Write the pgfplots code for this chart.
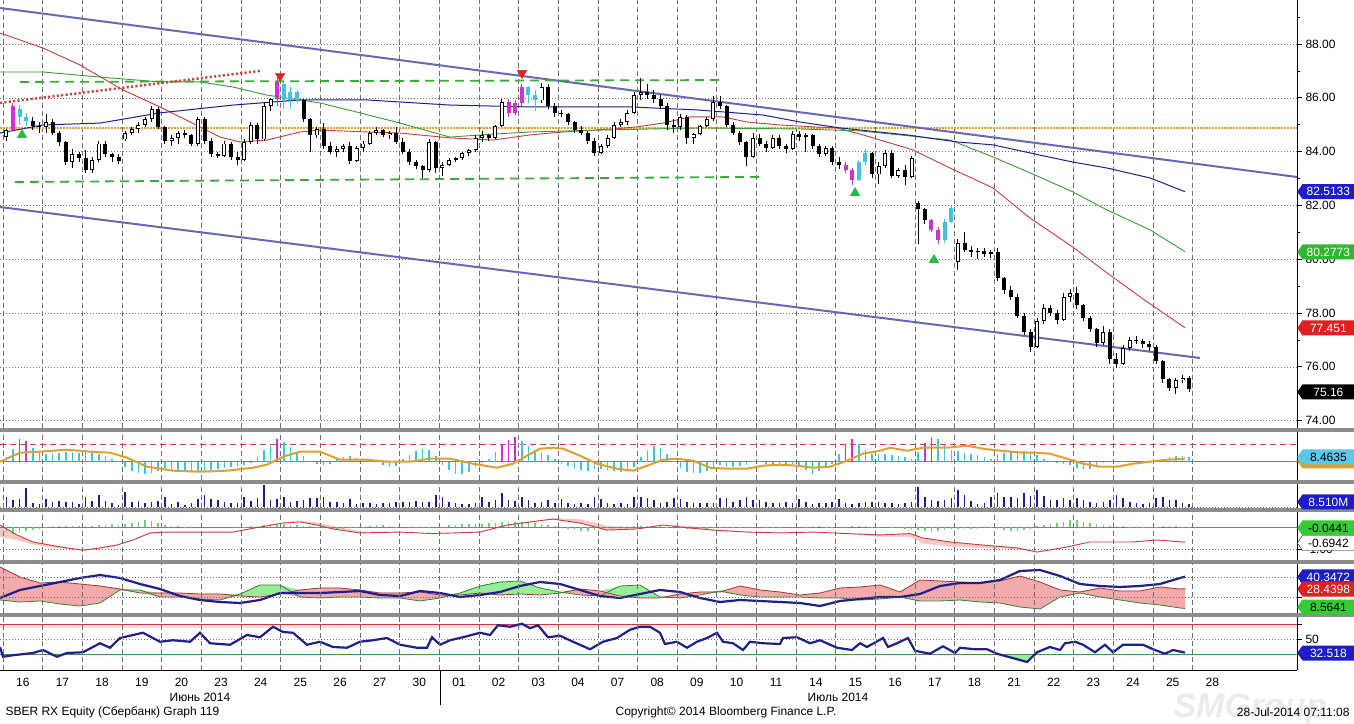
\documentclass[border=0pt]{standalone}
\usepackage{fontspec}
\setmainfont{Liberation Sans}
\usepackage{pgfplots}
\usepackage{pgfplotstable}
\pgfplotsset{compat=1.18}
\usetikzlibrary{shapes.symbols}

\definecolor{chan}{HTML}{6868B4}
\definecolor{mared}{HTML}{C83C3C}
\definecolor{magreen}{HTML}{3C9A3C}
\definecolor{manavy}{HTML}{20208C}
\definecolor{dgreen}{HTML}{3CAA3C}
\definecolor{trigreen}{HTML}{22BB44}
\definecolor{dotred}{HTML}{C84646}
\definecolor{orng}{HTML}{E0A030}
\definecolor{mag}{HTML}{CC33CC}
\definecolor{cyn}{HTML}{3EC4DC}
\definecolor{volc}{HTML}{1E1E8C}
\definecolor{hgreen}{HTML}{70D070}
\definecolor{pinkf}{HTML}{F4AAAA}
\definecolor{pinkl}{HTML}{F6C8C8}
\definecolor{greenf}{HTML}{98EE98}
\definecolor{pinkband}{HTML}{FBE2E2}
\definecolor{sepc}{HTML}{8C8C8C}
\definecolor{gridc}{HTML}{707070}
\definecolor{tagblue}{HTML}{1C1CC8}
\definecolor{taggreen}{HTML}{2DB82D}
\definecolor{tagred}{HTML}{E02020}
\definecolor{tagcyan}{HTML}{58C8EC}
\definecolor{limeg}{HTML}{33CC33}

\pgfplotsset{
  /pgf/number format/assume math mode=true,
  panel/.style={
    scale only axis, width=1297pt, anchor=south west,
    xmin=-0.0757, xmax=32.636, clip=false,
    axis line style={draw=none},
    xtick={0,...,30}, xticklabels={}, xtick style={draw=none},
    xmajorgrids,
    x grid style={gridc, dash pattern=on 5pt off 3pt, line width=0.5pt},
    ytick pos=right, yticklabel pos=right, tick align=outside,
    ytick style={black, line width=0.6pt},
    major tick length=5pt, minor tick length=3pt,
    ticklabel style={font=\fontsize{12}{14}\selectfont},
  },
}
\tikzset{tag/.style={signal, signal to=west, signal pointer angle=110, anchor=west,
  minimum height=15pt, minimum width=57pt, inner xsep=2pt, inner ysep=1pt,
  font=\fontsize{12}{12}\selectfont}}

\begin{document}

\pgfplotstableread{
o h l c hv vol m
84.55 84.85 84.40 84.80 5 10 -0.25
84.80 85.80 84.75 85.70 13 7 -0.3
85.60 85.75 85.00 85.30 23 8 -0.25
85.30 85.45 84.95 85.15 21 19 -0.2
85.15 85.30 84.80 84.95 14 4 -0.15
84.95 85.10 84.70 84.90 9 3 -0.1
84.90 85.40 84.70 85.10 8 8 -0.05
85.10 85.20 84.60 84.70 8 5 0.03
84.70 84.75 84.20 84.35 9 6 0.04
84.35 84.40 83.50 83.60 10 5 0.05
83.60 84.10 83.40 83.90 10 5 0.05
83.90 84.00 83.60 83.75 9 3 0.04
83.75 84.05 83.20 83.30 10 10 0.03
83.30 83.80 83.20 83.70 9 6 0.05
83.70 84.40 83.60 84.30 8 12 0.08
84.30 84.40 83.80 83.90 6 6 0.1
83.90 83.95 83.60 83.80 3 4 0.12
83.80 83.90 83.55 83.65 1 2 0.1
84.45 84.75 84.40 84.70 -5 15 0.15
84.70 84.90 84.60 84.85 -9 5 0.2
84.85 85.10 84.70 85.00 -11 6 0.25
85.00 85.30 84.90 85.20 -12 4 0.3
85.20 85.70 85.10 85.60 -11 5 0.28
85.60 85.65 84.85 84.90 -9 6 0.2
84.90 84.95 84.30 84.40 -6 10 0.1
84.40 84.60 84.20 84.50 -8 3 0.05
84.50 84.75 84.30 84.70 -10 5 0.03
84.70 84.80 84.50 84.60 -10 2 0.02
84.60 84.65 84.20 84.30 -10 4 0.01
84.30 85.30 84.20 85.20 -9 8 0
85.20 85.30 84.30 84.40 -9 12 0
84.40 84.50 83.80 83.90 -8 8 0
83.90 84.00 83.75 83.85 -7 7 0
83.85 84.40 83.80 84.30 -6 5 0
84.30 84.35 83.70 83.80 -5 4 0
83.80 84.00 83.50 83.70 -4 4 0.01
83.70 84.45 83.65 84.35 -3 10 0.02
84.35 85.10 84.30 85.00 -1 6 0.04
85.00 85.05 84.30 84.45 5 9 0.06
84.45 85.85 84.40 85.70 12 22 0.1
85.70 86.00 85.50 85.95 17 7 0.12
85.95 86.75 85.70 86.60 23 8 0.14
86.50 86.60 85.60 85.90 20 10 0.12
85.90 86.40 85.60 86.20 15 5 0.1
86.20 86.30 85.80 85.90 10 6 0.08
85.90 85.95 85.10 85.20 6 7 0.05
85.20 85.25 84.00 84.60 1 9 0.03
84.60 84.90 84.50 84.85 -2 9 0.01
84.85 85.05 84.10 84.20 -3 10 -0.03
84.20 84.35 83.90 84.00 -2 5 -0.06
84.00 84.20 83.80 84.10 3 5 -0.08
84.10 84.30 84.00 84.20 5 4 -0.08
84.20 84.35 83.55 83.65 6 8 -0.05
83.65 84.20 83.60 84.15 4 3 -0.02
84.15 84.40 84.00 84.30 3 4 0.02
84.30 84.75 84.25 84.70 2 4 0.05
84.70 84.90 84.60 84.80 0 3 0.07
84.80 84.85 84.55 84.60 -3 4 0.07
84.60 84.75 84.45 84.70 -5 4 0.05
84.70 84.90 84.30 84.35 -4 5 0.02
84.35 84.50 83.90 84.00 3 5 0
84.00 84.10 83.50 83.60 7 5 -0.02
83.60 83.70 83.35 83.45 11 6 -0.03
83.45 83.50 83.00 83.30 13 5 -0.03
83.30 84.45 83.25 84.35 12 5 -0.02
84.35 84.40 83.20 83.40 6 12 0
83.40 83.60 83.10 83.50 -3 10 0.02
83.50 83.75 83.45 83.70 -8 5 0.08
83.70 83.80 83.60 83.75 -12 4 0.1
83.75 84.00 83.70 83.95 -12 3 0.12
83.95 84.10 83.85 84.05 -10 3 0.12
84.05 84.60 84.00 84.50 -5 4 0.12
84.50 84.75 84.35 84.60 -1 10 0.15
84.60 84.65 84.40 84.50 3 5 0.18
84.50 85.00 84.45 84.95 10 7 0.2
84.95 85.95 84.90 85.85 17 14 0.22
85.85 85.95 85.30 85.45 22 7 0.25
85.45 85.90 85.35 85.80 25 6 0.25
85.80 86.50 85.70 86.40 21 10 0.25
86.40 86.45 85.80 86.10 16 7 0.22
86.10 86.30 85.50 85.90 12 4 0.2
85.90 86.55 85.80 86.40 9 5 0.15
86.40 86.50 85.60 85.70 7 7 0.1
85.70 85.80 85.30 85.45 3 4 0.05
85.45 85.55 85.30 85.40 -2 8 -0.05
85.40 85.45 85.00 85.10 -4 4 -0.1
85.10 85.15 84.70 84.80 -7 3 -0.15
84.80 84.95 84.60 84.70 -8 4 -0.18
84.70 84.75 84.30 84.40 -9 3 -0.18
84.40 84.50 83.85 83.95 -7 10 -0.15
83.95 84.30 83.90 84.20 -7 8 -0.1
84.20 84.60 84.15 84.50 -8 4 -0.05
84.50 85.10 84.45 85.00 -9 3 0
85.00 85.20 84.90 85.10 -10 4 0.03
85.10 85.55 85.00 85.45 -9 3 0.05
85.45 86.20 85.40 86.10 -5 10 0.05
86.10 86.75 85.90 86.20 5 10 0.05
86.20 86.50 85.95 86.10 12 9 0.06
86.10 86.30 85.80 85.95 16 7 0.05
85.95 86.10 85.60 85.70 14 4 0.03
85.70 85.80 84.80 85.00 8 5 0.02
85.00 85.20 84.70 84.90 1 9 0
84.90 85.40 84.80 85.30 -6 8 -0.05
85.30 85.35 84.30 84.50 -10 5 -0.08
84.50 84.70 84.30 84.65 -11 4 -0.1
84.65 85.00 84.60 84.95 -11 4 -0.1
84.95 85.30 84.90 85.20 -9 4 -0.08
85.20 86.05 85.15 85.85 -5 4 -0.05
85.85 86.05 85.60 85.70 -3 9 -0.02
85.70 85.75 84.90 85.00 -5 9 -0.02
85.00 85.10 84.60 84.70 -5 5 -0.03
84.70 84.75 84.25 84.35 -4 7 -0.02
84.35 84.40 83.45 83.80 -3 10 -0.01
83.80 84.70 83.75 84.50 1 7 0
84.50 84.65 84.20 84.30 1 7 0
84.30 84.40 84.00 84.15 -2 5 0.01
84.15 84.60 84.10 84.50 -3 4 0.01
84.50 84.60 84.10 84.20 -3 4 0.01
84.20 84.30 83.95 84.10 -2 5 0
84.10 84.75 84.05 84.65 -2 4 0
84.65 84.75 84.40 84.55 -4 8 0
84.55 84.70 84.00 84.60 -8 5 0.02
84.60 84.65 84.10 84.20 -12 3 0.03
84.20 84.30 83.80 83.90 -9 4 0.03
83.90 84.20 83.85 84.15 -5 4 0.02
84.15 84.20 83.50 83.60 -2 5 0.01
83.60 83.80 83.35 83.50 8 8 0
83.50 83.60 83.20 83.30 18 4 0.02
83.30 83.40 82.75 82.95 23 3 0.03
82.95 83.70 82.90 83.60 18 4 0.04
83.60 84.10 83.50 83.95 12 5 0.03
83.95 84.00 83.00 83.15 8 5 0.02
83.15 83.60 82.80 83.45 8 5 0.01
83.45 84.05 83.40 83.95 8 4 0
83.95 84.05 83.00 83.10 7 4 -0.02
83.10 83.40 83.00 83.30 6 3 -0.05
83.30 83.50 82.75 83.05 5 4 -0.08
83.05 83.85 83.00 83.75 3 5 -0.12
82.10 82.15 80.55 81.85 10 20 -0.15
81.85 81.90 81.30 81.45 19 10 -0.2
81.45 81.50 81.00 81.10 25 7 -0.22
81.10 81.20 80.55 80.70 23 6 -0.2
80.70 81.50 80.60 81.40 17 7 -0.15
81.40 82.00 81.35 81.90 12 9 -0.1
79.90 80.75 79.60 80.60 11 17 -0.08
80.60 81.00 80.25 80.35 9 12 -0.1
80.35 80.50 80.10 80.25 8 6 -0.1
80.25 80.40 80.00 80.30 7 3 -0.08
80.30 80.40 80.10 80.20 5 4 -0.05
80.20 80.35 80.05 80.25 3 10 -0.03
80.25 80.40 79.20 79.30 8 14 -0.1
79.30 79.35 78.70 78.85 9 10 -0.15
78.85 79.00 78.50 78.60 10 10 -0.18
78.60 78.70 77.80 77.90 11 9 -0.2
77.90 78.00 77.20 77.30 11 14 -0.15
77.30 77.40 76.55 76.75 10 11 -0.08
76.75 77.80 76.70 77.70 7 17 0.05
77.70 78.35 77.60 78.20 3 11 0.1
78.20 78.30 77.90 78.00 1 7 0.15
78.00 78.10 77.60 77.75 -1 7 0.2
77.75 78.75 77.70 78.60 -2 9 0.25
78.60 78.90 78.40 78.75 -3 7 0.3
78.75 78.95 78.15 78.30 -6 9 0.3
78.30 78.35 77.70 77.80 -7 7 0.25
77.80 77.90 77.30 77.40 -7 5 0.2
77.40 77.45 76.75 76.90 -3 4 0.15
76.90 77.50 76.80 77.30 -1 5 0.1
77.30 77.40 76.10 76.30 0 7 0.05
76.30 76.50 75.95 76.10 0 12 0.03
76.10 76.80 76.05 76.70 1 9 0.03
76.70 77.10 76.60 77.00 0 5 0.02
77.00 77.15 76.85 76.95 0 4 0.02
76.95 77.05 76.70 76.85 1 3 0.02
76.85 76.95 76.60 76.75 1 4 0.01
76.75 76.80 76.10 76.20 2 9 0.02
76.20 76.25 75.40 75.55 3 10 0.03
75.55 75.60 75.10 75.20 5 7 0.03
75.20 75.60 75.00 75.50 6 7 0.03
75.50 75.70 75.40 75.60 6 4 0.02
75.60 75.65 75.05 75.16 5 3 0.02
}\bars

\pgfplotstableread{
x o h l c
0.25 84.80 85.80 84.75 85.70
6.917 85.95 86.75 85.70 86.60
12.75 85.85 85.95 85.30 85.45
12.917 85.45 85.90 85.35 85.80
13.083 85.80 86.50 85.70 86.40
21.25 83.50 83.60 83.20 83.30
21.417 83.30 83.40 82.75 82.95
23.417 81.45 81.50 81.00 81.10
23.583 81.10 81.20 80.55 80.70
}\magc

\pgfplotstableread{
x o h l c
0.417 85.60 85.75 85.00 85.30
0.583 85.30 85.45 84.95 85.15
7.083 86.50 86.60 85.60 85.90
7.25 85.90 86.40 85.60 86.20
7.417 86.20 86.30 85.80 85.90
13.25 86.40 86.45 85.80 86.10
13.417 86.10 86.30 85.50 85.90
21.583 82.95 83.70 82.90 83.60
21.75 83.60 84.10 83.50 83.95
23.75 80.70 81.50 80.60 81.40
23.917 81.40 82.00 81.35 81.90
}\cync

\pgfplotstableread{
x v
0.417 23
0.583 21
6.917 23
12.583 17
12.75 22
12.917 25
21.25 18
21.417 23
23.25 19
23.417 25
}\magh

\pgfplotstableread{
px p
0 88.41
43 87.85
80 87.22
123 86.29
160 85.66
200 84.92
220 84.54
240 84.36
267 84.43
300 84.73
320 84.80
367 84.73
400 84.69
450 84.51
493 84.43
530 84.62
563 84.73
613 84.84
637 84.92
663 85.06
690 85.29
723 85.29
747 85.10
780 84.99
813 84.92
837 84.88
863 84.62
890 84.32
913 84.06
950 83.39
993 82.65
1030 81.53
1073 80.45
1107 79.49
1140 78.60
1185 77.45
}\mared

\pgfplotstableread{
px p
0 86.96
43 86.96
100 86.77
160 86.59
200 86.59
233 86.40
267 86.10
320 85.81
360 85.44
400 85.06
450 84.54
493 84.65
530 84.73
600 84.80
700 84.88
800 84.84
860 84.77
900 84.62
950 84.43
993 83.80
1030 83.21
1073 82.50
1107 81.83
1150 81.09
1185 80.28
}\magrn

\pgfplotstableread{
px p
0 84.69
43 84.99
100 85.06
160 85.44
233 85.73
300 85.92
367 85.92
450 85.73
530 85.66
630 85.66
697 85.55
763 85.36
800 85.10
840 84.88
907 84.62
957 84.36
993 84.25
1040 83.87
1073 83.61
1107 83.39
1150 83.02
1185 82.51
}\manvy

\pgfplotstableread{
px v
0 0
20 9
40 10
67 12
90 10
110 9
127 4
147 -5
173 -9
200 -10
227 -9
253 -6
267 -3
283 5
300 10
320 10
340 2
367 2
387 0
410 0
430 3
450 3
473 -2
497 -6
513 -2
527 6
540 13
553 14
563 13
580 6
597 -2
617 -7
633 -9
650 -3
663 2
677 3
693 1
710 -6
727 -7
747 -7
763 -4
780 -3
797 -4
813 -6
830 -5
847 1
863 8
880 11
890 14
907 11
923 14
947 14
967 16
983 13
1000 11
1023 9
1037 9
1050 8
1067 3
1083 -2
1100 -5
1117 -5
1133 -2
1150 0
1167 2
1185 3
}\osc

\pgfplotstableread{
px r s
0 0.09 -0.45
17 -0.36 -0.6
33 -0.68 -0.8
50 -0.82 -0.92
67 -0.95 -1.0
83 -1.05 -1.08
100 -0.95 -1.0
117 -0.82 -0.85
133 -0.59 -0.6
150 -0.27 -0.3
167 -0.23 -0.23
183 -0.23 -0.23
233 -0.23 -0.23
260 0 0
283 0.18 0.2
300 0.23 0.27
317 0.09 0.2
333 -0.09 0.05
360 -0.27 -0.2
400 -0.23 -0.23
433 -0.3 -0.3
480 -0.23 -0.23
507 0.09 0.05
530 0.23 0.2
553 0.36 0.4
580 0.18 0.36
607 -0.14 0.05
637 -0.09 -0.05
663 0.09 0.09
690 -0.05 0.05
713 -0.14 -0.1
747 -0.23 -0.23
780 -0.27 -0.27
813 -0.23 -0.23
847 -0.3 -0.3
880 -0.36 -0.45
910 -0.3 -0.45
923 -0.5 -0.75
950 -0.68 -0.9
983 -0.82 -0.95
1017 -0.95 -1.0
1037 -1.14 -1.14
1067 -0.91 -0.91
1090 -0.68 -0.68
1133 -0.68 -0.68
1157 -0.59 -0.59
1185 -0.69 -0.69
}\macd

\pgfplotstableread{
px b r g
0 19 50 17
20 27 40 15
40 31 34 16
60 35 35 13
80 39 33 11
100 42 31 14
120 39 28 27
140 33 24 27
160 28 24 20
180 21 24 20
200 17 23 18
220 15 23 17
240 14 21 23
260 17 20 32
280 24 23 32
300 24 27 20
320 24 29 19
340 25 29 20
360 26 27 20
380 22 24 19
400 21 24 19
420 26 25 16
440 24 22 19
460 20 22 24
480 22 24 31
500 25 22 35
520 31 23 36
540 35 22 29
560 33 24 25
580 27 28 22
600 21 26 21
620 19 21 31
640 23 19 32
660 27 19 20
680 25 23 19
700 19 25 22
720 15 25 26
740 17 31 22
760 16 27 20
780 15 25 20
800 14 22 20
820 11 24 19
840 16 29 19
860 18 30 17
880 20 32 18
900 20 25 20
920 23 37 16
940 31 36 16
960 34 35 17
980 34 34 15
1000 37 36 14
1020 46 41 10
1040 47 35 8
1060 41 27 20
1080 33 25 24
1100 31 29 20
1120 30 26 17
1140 31 26 14
1160 33 30 12
1180 39 28 9
1185 40.35 28.44 8.56
}\dmi

\pgfplotstableread{
px v
0 40
3 27
13 29
33 32
43 36
57 27
67 32
83 33
100 45
110 39
120 52
143 59
160 47
173 49
190 47
200 59
210 45
230 43
247 56
260 53
273 67
283 60
293 59
307 43
320 47
333 40
347 39
360 47
373 49
387 52
400 43
417 39
427 39
432 53
440 43
450 49
463 53
480 59
490 56
498 69
510 67
522 71
530 65
538 69
548 53
560 55
573 47
590 37
603 47
617 52
630 63
640 67
650 67
660 59
665 44
677 47
687 39
697 47
707 52
717 59
723 47
733 45
743 36
750 47
763 45
780 44
783 52
797 53
810 45
820 49
837 39
852 36
860 45
867 40
883 52
888 40
897 45
908 52
915 35
930 31
943 41
955 32
960 39
975 37
987 37
997 31
1027 20
1037 33
1050 40
1060 36
1065 45
1075 47
1083 43
1095 33
1105 43
1113 33
1123 43
1143 43
1153 37
1165 31
1173 36
1185 32.5
}\rsi

\begin{tikzpicture}
\useasboundingbox (0pt,0pt) rectangle (1354pt,723pt);
\fill[white] (0pt,0pt) rectangle (1354pt,723pt);

% ---------------- main price panel ----------------
\begin{axis}[panel, at={(0pt,295pt)}, height=428pt, ymin=73.725, ymax=89.636,
  ytick={74,76,...,88}, minor ytick={75,77,...,89},
  yticklabel={\pgfmathprintnumber[fixed,fixed zerofill,precision=2]{\tick}},
  ymajorgrids, y grid style={gridc, dash pattern=on 1pt off 2pt, line width=0.5pt}]
\addplot[orng, line width=1.3pt, dash pattern=on 1.5pt off 1.5pt] coordinates {(-0.0757,84.88) (32.636,84.88)};
\addplot[chan, line width=2pt] coordinates {(-0.0757,89.338) (32.636,83.056)};
\addplot[chan, line width=2pt] coordinates {(-0.0757,81.94) (30.19,76.327)};
\addplot[mared, line width=0.9pt] table[x expr=(\thisrow{px}-3)/39.65, y=p] {\mared};
\addplot[magreen, line width=0.9pt] table[x expr=(\thisrow{px}-3)/39.65, y=p] {\magrn};
\addplot[manavy, line width=1pt] table[x expr=(\thisrow{px}-3)/39.65, y=p] {\manvy};
\addplot[dgreen, line width=1.8pt, dash pattern=on 9pt off 6pt] coordinates {(0.429,86.59) (18.21,86.66)};
\addplot[dgreen, line width=1.8pt, dash pattern=on 9pt off 6pt] coordinates {(0.303,82.87) (19.09,83.06)};
\addplot[dotred, line width=2.4pt, dash pattern=on 2.2pt off 2.2pt] coordinates {(-0.0757,85.81) (6.48,87.00)};
\addplot[black, line width=0.9pt, quiver={u=0,v=\thisrow{h}-\thisrow{l}}]
  table[x expr=(\coordindex+0.5)/6, y=l] {\bars};
\addplot[black, line width=4pt, quiver={u=0,v={max(abs(\thisrow{c}-\thisrow{o}),0.04)}}]
  table[x expr=(\coordindex+0.5)/6, y expr={min(\thisrow{o},\thisrow{c})}] {\bars};
\addplot[white, line width=2.2pt, quiver={u=0,v={max(\thisrow{c}-\thisrow{o}-0.07,0)}}]
  table[x expr=(\coordindex+0.5)/6, y expr={\thisrow{o}+0.035}] {\bars};
\addplot[mag, line width=0.9pt, quiver={u=0,v=\thisrow{h}-\thisrow{l}}] table[x=x, y=l] {\magc};
\addplot[mag, line width=4pt, quiver={u=0,v={max(abs(\thisrow{c}-\thisrow{o}),0.04)}}]
  table[x=x, y expr={min(\thisrow{o},\thisrow{c})}] {\magc};
\addplot[cyn, line width=0.9pt, quiver={u=0,v=\thisrow{h}-\thisrow{l}}] table[x=x, y=l] {\cync};
\addplot[cyn, line width=4pt, quiver={u=0,v={max(abs(\thisrow{c}-\thisrow{o}),0.04)}}]
  table[x=x, y expr={min(\thisrow{o},\thisrow{c})}] {\cync};
\addplot[only marks, mark=triangle*, mark size=5.5pt, color=trigreen] coordinates {(0.48,84.62) (21.49,82.46) (23.48,79.97)};
\addplot[only marks, mark=triangle*, mark size=5.5pt, color=tagred, mark options={rotate=180}] coordinates {(6.99,86.81) (13.09,86.92)};
\end{axis}

% ---------------- oscillator panel ----------------
\begin{axis}[panel, at={(0pt,243pt)}, height=48pt, ymin=-18.3, ymax=29.7, ytick=\empty]
\addplot[gray, line width=0.8pt] coordinates {(-0.0757,0) (32.636,0)};
\addplot[dotred, line width=0.8pt, dash pattern=on 6pt off 4pt] coordinates {(-0.0757,17.4) (32.636,17.4)};
\addplot[cyn, line width=1.6pt, quiver={u=0,v=\thisrow{hv}}] table[x expr=(\coordindex+0.5)/6, y expr=0] {\bars};
\addplot[mag, line width=1.6pt, quiver={u=0,v=\thisrow{v}}] table[x=x, y expr=0] {\magh};
\addplot[orng, line width=2pt] table[x expr=(\thisrow{px}-3)/39.65, y=v] {\osc};
\end{axis}

% ---------------- volume panel ----------------
\begin{axis}[panel, at={(0pt,215pt)}, height=24pt, ymin=-1, ymax=23, ytick=\empty]
\addplot[gridc, dash pattern=on 1pt off 2pt, line width=0.5pt] coordinates {(-0.0757,0) (32.636,0)};
\addplot[volc, line width=1.6pt, quiver={u=0,v=\thisrow{vol}}] table[x expr=(\coordindex+0.5)/6, y expr=0] {\bars};
\end{axis}

% ---------------- MACD panel ----------------
\begin{axis}[panel, at={(0pt,163pt)}, height=48pt, ymin=-1.5, ymax=0.682, ytick={-1}, yticklabels={-1.00}, axis on top]
\addplot[fill=pinkl, draw=none] table[x expr=(\thisrow{px}-3)/39.65, y expr={max(\thisrow{r},\thisrow{s})}] {\macd}
  -- (axis cs:29.811,-1.5) -- (axis cs:-0.0757,-1.5) -- cycle;
\addplot[fill=white, draw=none] table[x expr=(\thisrow{px}-3)/39.65, y expr={min(\thisrow{r},\thisrow{s})}] {\macd}
  -- (axis cs:29.811,-1.5) -- (axis cs:-0.0757,-1.5) -- cycle;
\addplot[gray, line width=0.8pt] coordinates {(-0.0757,0) (32.636,0)};
\addplot[gridc, dash pattern=on 1pt off 2pt, line width=0.5pt] coordinates {(-0.0757,-1) (32.636,-1)};
\addplot[hgreen, line width=1.6pt, quiver={u=0,v=\thisrow{m}}] table[x expr=(\coordindex+0.5)/6, y expr=0] {\bars};
\addplot[mared, line width=0.9pt] table[x expr=(\thisrow{px}-3)/39.65, y=r] {\macd};
\end{axis}

% ---------------- DMI panel ----------------
\begin{axis}[panel, at={(0pt,110pt)}, height=49pt, ymin=4, ymax=53, ytick={20,40}, yticklabels={},
  ymajorgrids, y grid style={gridc, dash pattern=on 1pt off 2pt, line width=0.5pt}, axis on top]
\addplot[fill=greenf, draw=none] table[x expr=(\thisrow{px}-3)/39.65, y expr={max(\thisrow{r},\thisrow{g})}] {\dmi}
  -- (axis cs:29.811,4) -- (axis cs:-0.0757,4) -- cycle;
\addplot[fill=pinkf, draw=none] table[x expr=(\thisrow{px}-3)/39.65, y=r] {\dmi}
  -- (axis cs:29.811,4) -- (axis cs:-0.0757,4) -- cycle;
\addplot[fill=white, draw=none] table[x expr=(\thisrow{px}-3)/39.65, y expr={min(\thisrow{r},\thisrow{g})}] {\dmi}
  -- (axis cs:29.811,4) -- (axis cs:-0.0757,4) -- cycle;
\addplot[mared!85!black, line width=0.8pt] table[x expr=(\thisrow{px}-3)/39.65, y=r] {\dmi};
\addplot[magreen!85!black, line width=0.8pt] table[x expr=(\thisrow{px}-3)/39.65, y=g] {\dmi};
\addplot[manavy, line width=2.2pt] table[x expr=(\thisrow{px}-3)/39.65, y=b] {\dmi};
\end{axis}

% ---------------- RSI panel ----------------
\begin{axis}[panel, at={(0pt,53pt)}, height=53pt, ymin=9.33, ymax=80, ytick={30,50,70}, yticklabels={,50,},
  extra x ticks={0.5,1.5,...,30.5},
  extra x tick labels={16,17,18,19,20,23,24,25,26,27,30,01,02,03,04,07,08,09,10,11,14,15,16,17,18,21,22,23,24,25,28},
  extra x tick style={grid=none}, axis on top]
\fill[pinkband] (axis cs:-0.0757,65) rectangle (axis cs:32.636,70);
\addplot[fill=greenf, draw=none] coordinates {(-0.0757,30) (29.811,30)}
  -- (axis cs:29.811,9.33) -- (axis cs:-0.0757,9.33) -- cycle;
\addplot[fill=white, draw=none] table[x expr=(\thisrow{px}-3)/39.65, y expr={min(\thisrow{v},30)}] {\rsi}
  -- (axis cs:29.811,9.33) -- (axis cs:-0.0757,9.33) -- cycle;
\addplot[mared, line width=0.8pt] coordinates {(-0.0757,70) (32.636,70)};
\addplot[gridc, dash pattern=on 1pt off 2pt, line width=0.5pt] coordinates {(-0.0757,50) (32.636,50)};
\addplot[magreen, line width=0.8pt] coordinates {(-0.0757,30) (32.636,30)};
\addplot[manavy, line width=2.2pt] table[x expr=(\thisrow{px}-3)/39.65, y=v] {\rsi};
\end{axis}

% frame lines and separators
\draw[black, line width=0.8pt] (1297pt,53pt) -- (1297pt,723pt);
\draw[black, line width=0.8pt] (0pt,53pt) -- (1297pt,53pt);
\draw[black, line width=0.8pt] (440pt,53pt) -- (440pt,18pt);
\fill[sepc] (0pt,291pt) rectangle (1354pt,295pt);
\fill[sepc] (0pt,239pt) rectangle (1354pt,243pt);
\fill[sepc] (0pt,211pt) rectangle (1354pt,215pt);
\fill[sepc] (0pt,159pt) rectangle (1354pt,163pt);
\fill[sepc] (0pt,106pt) rectangle (1354pt,110pt);

% month labels and footer
\node[font=\fontsize{12}{14}\selectfont] at (200pt,26pt) {Июнь 2014};
\node[font=\fontsize{12}{14}\selectfont] at (838pt,26pt) {Июль 2014};
\node[font=\fontsize{34}{36}\selectfont\bfseries\itshape, text=gray!16] at (1250pt,14pt) {SMGroup};
\node[font=\fontsize{12}{14}\selectfont, anchor=west] at (2pt,11pt) {SBER RX Equity (Сбербанк) Graph 119};
\node[font=\fontsize{12}{14}\selectfont] at (726pt,11pt) {Copyright© 2014 Bloomberg Finance L.P.};
\node[font=\fontsize{12}{14}\selectfont, anchor=east] at (1353pt,11pt) {28-Jul-2014 07:11:08};

% value tags
\node[tag, fill=tagblue, text=white] at (1297pt,531.4pt) {82.5133};
\node[tag, fill=taggreen, text=white] at (1297pt,471pt) {80.2773};
\node[tag, fill=tagred, text=white] at (1297pt,395pt) {77.451};
\node[tag, fill=black, text=white] at (1297pt,331pt) {75.16};
\node[tag, fill=orng] at (1297pt,262pt) {};
\node[tag, fill=tagcyan, text=black] at (1297pt,266pt) {8.4635};
\node[tag, fill=tagblue, text=white] at (1297pt,221pt) {8.510M};
\node[tag, fill=limeg, text=black] at (1297pt,195pt) {-0.0441};
\node[tag, fill=white, draw=black, text=black] at (1297pt,180pt) {-0.6942};
\node[tag, fill=tagblue, text=white] at (1297pt,146pt) {40.3472};
\node[tag, fill=tagred, text=white] at (1297pt,134pt) {28.4398};
\node[tag, fill=limeg, text=black] at (1297pt,116pt) {8.5641};
\node[tag, fill=tagblue, text=white] at (1297pt,70pt) {32.518};
\end{tikzpicture}
\end{document}
